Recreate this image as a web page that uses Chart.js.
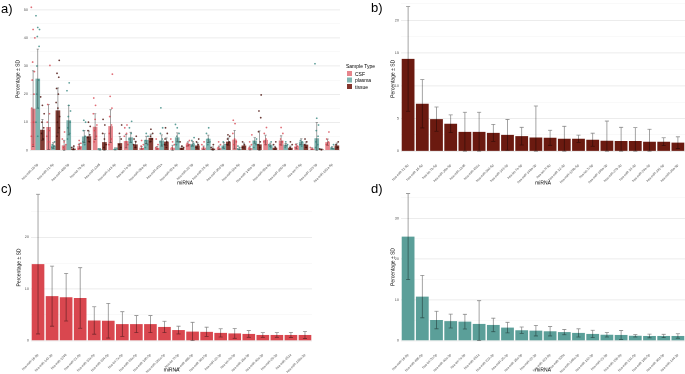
<!DOCTYPE html>
<html>
<head>
<meta charset="utf-8">
<script src="https://cdn.jsdelivr.net/npm/chart.js@4.4.1/dist/chart.umd.min.js"></script>
<style>
body { margin:0; width:685px; height:374px; overflow:hidden; background:#fff; position:relative; font-family:'Liberation Sans', Arial, sans-serif; }
.panel { position:absolute; transform:scale(0.5); transform-origin:0 0; }
.tag { position:absolute; font-size:13px; line-height:1; color:#000; }
.legend { position:absolute; left:346px; top:64px; width:120px; height:60px; transform:scale(0.5); transform-origin:0 0; }
.leg { position:absolute; font-size:10px; line-height:1; color:#000; white-space:nowrap; }
.key { position:absolute; width:10px; height:10px; }
</style>
</head>
<body>
<div class="panel" style="left:0;top:-4px"><canvas id="chartA" width="684" height="382"></canvas></div>
<div class="panel" style="left:380px;top:-5px"><canvas id="chartB" width="610" height="384"></canvas></div>
<div class="panel" style="left:0;top:181px"><canvas id="chartC" width="628" height="386"></canvas></div>
<div class="panel" style="left:380px;top:181px"><canvas id="chartD" width="610" height="386"></canvas></div>

<div class="tag" style="left:1px;top:2px">a)</div>
<div class="tag" style="left:371px;top:1px">b)</div>
<div class="tag" style="left:1px;top:182px">c)</div>
<div class="tag" style="left:371px;top:182px">d)</div>

<!-- legenda do painel a (desenhada em 2x e reduzida) -->
<div class="legend">
    <div class="leg" style="left:0;top:0">Sample Type</div>
    <div class="key" style="left:2px;top:14px;background:#e6858c"></div>
    <div class="leg" style="left:18px;top:15px">CSF</div>
    <div class="key" style="left:2px;top:27px;background:#7fb5b0"></div>
    <div class="leg" style="left:18px;top:28px">plasma</div>
    <div class="key" style="left:2px;top:40px;background:#84352d"></div>
    <div class="leg" style="left:18px;top:41px">tissue</div>
</div>

<script>
// Painel a: miRNAs por tipo de amostra
const labelsA = ['hsa-miR-16-5p', 'hsa-miR-21-5p', 'hsa-miR-486-5p', 'hsa-let-7b-5p', 'hsa-miR-1246',
    'hsa-miR-143-3p', 'hsa-let-7a-5p', 'hsa-miR-26a-5p', 'hsa-miR-451a', 'hsa-miR-92a-3p',
    'hsa-miR-22-3p', 'hsa-miR-25-3p', 'hsa-miR-30d-5p', 'hsa-miR-10a-5p', 'hsa-miR-148a-3p',
    'hsa-miR-99a-5p', 'hsa-miR-100-5p', 'hsa-let-7f-5p', 'hsa-miR-223-3p', 'hsa-miR-181a-5p'];
const csfMeanA = [14.8, 8.3, 1.75, 1.5, 8.4, 8.6, 3.25, 0.9, 0.9, 0.9, 2.3, 0.9, 0.9, 3.8, 0.8, 3.7, 3.5, 1.4, 0.6, 2.9];
const csfSdA = [13.5, 8.0, 1.8, 1.0, 4.6, 5.85, 2.4, 0.5, 0.5, 0.9, 0.75, 0.6, 0.6, 3.3, 0.7, 1.7, 1.65, 0.9, 0.3, 1.1];
const plasmaMeanA = [25.5, 1.7, 10.7, 4.9, 0.35, 0.5, 4.6, 3.7, 3.5, 4.6, 2.3, 4.1, 1.7, 0.5, 3.5, 2.0, 2.0, 3.1, 4.3, 0.9];
const plasmaSdA = [10.5, 1.0, 5.2, 2.2, 0.3, 0.4, 1.8, 1.3, 2.0, 1.6, 0.8, 1.3, 1.0, 0.3, 1.0, 0.55, 0.45, 1.0, 5.6, 0.4];
const tissueMeanA = [7.3, 14.2, 0.6, 5.0, 2.9, 2.55, 2.1, 4.4, 3.1, 0.9, 1.7, 0.6, 3.1, 1.7, 2.1, 0.9, 0.9, 2.0, 0.35, 1.7];
const tissueSdA = [3.7, 8.0, 0.5, 1.85, 3.0, 2.35, 1.15, 1.35, 1.3, 0.5, 1.0, 0.6, 1.3, 0.9, 4.8, 0.55, 0.6, 1.0, 0.2, 0.9];

// pontos individuais (amostras)
const csfPtsA = [
    [50.9, 43, 40, 31.4, 28, 25, 20, 15, 10, 5, 2], [30.2, 16.3, 13, 10, 7, 5, 3], [6.5, 4, 3, 2, 1],
    [3.5, 2.5, 2, 1, 0.5], [18.6, 16, 13, 11, 9, 7, 5, 3], [27.1, 19.2, 15, 12, 9, 6, 4, 2],
    [9, 8, 6, 5, 3, 2], [3.5, 2, 1.5, 0.5], [4, 2, 1, 0.5], [4, 3, 2, 1], [3.5, 2.5, 2, 1.5],
    [3, 2, 1], [3, 2, 1], [10.7, 9.5, 6, 4, 3, 2], [5.5, 3, 2, 1], [8.1, 6, 4, 3, 2],
    [8.1, 6, 4, 3, 2], [2, 1.5, 1], [1, 0.5], [6.5, 4, 3, 2]
];
const plasmaPtsA = [
    [47.9, 43.7, 43, 40.5, 37, 30, 25, 20, 15, 10, 5], [3, 2, 1.5, 1], [24, 21.2, 16, 14, 12, 10, 8, 6, 4],
    [10.7, 10, 7, 5, 3, 2], [0.5, 0.3], [0.7, 0.4], [10.3, 8, 6, 4, 3], [6, 5, 3.5, 2, 1],
    [15.1, 8, 6, 4, 3, 2], [9.2, 8, 6, 5, 3, 2], [4.5, 3.5, 2.5, 1.5], [8, 6, 4, 3, 2],
    [3, 2, 1], [1.5, 1, 0.5], [4, 3, 2, 1], [3, 2, 1], [3, 2, 1], [3.5, 3, 2, 1.5],
    [30.8, 11.4, 9, 7, 5, 3, 2, 1], [2, 1, 0.5]
];
const tissuePtsA = [
    [19, 16, 13, 10, 8, 6, 4], [32, 27.4, 26, 22, 20, 17, 15, 12, 10, 8, 5], [1.5, 1, 0.5],
    [10, 8.5, 7, 5.5, 4.5, 3], [11, 9, 6, 4, 2, 1], [9, 6, 4, 2, 1], [5, 4, 3, 2, 1],
    [7.5, 6, 5, 4, 3], [8, 6, 4, 3, 2, 1], [3, 1.5, 1, 0.5], [4, 3, 2, 1], [2, 1, 0.5],
    [5.5, 5, 4, 3, 2], [3, 2, 1], [19.7, 14, 11.6, 6.6, 3, 2, 1], [3, 2, 1], [3, 2, 1],
    [4, 3, 2, 1], [0.5, 0.2], [3, 2, 1]
];
const yTicksA = [0, 10, 20, 30, 40, 50];
const yMinorA = [5, 15, 25, 35, 45];

// Painel b: tecido
const labelsB = ['hsa-miR-21-5p', 'hsa-miR-16-5p', 'hsa-let-7b-5p', 'hsa-miR-26a-5p', 'hsa-miR-1246',
    'hsa-miR-451a', 'hsa-miR-30d-5p', 'hsa-miR-143-3p', 'hsa-let-7a-5p', 'hsa-miR-148a-3p',
    'hsa-let-7f-5p', 'hsa-miR-22-3p', 'hsa-miR-125b-5p', 'hsa-let-7i-5p', 'hsa-miR-199a-3p',
    'hsa-miR-27b-3p', 'hsa-miR-24-3p', 'hsa-miR-29a-3p', 'hsa-miR-191-5p', 'hsa-miR-30a-5p'];
const meanB = [14.1, 7.25, 4.9, 4.2, 2.95, 2.95, 2.8, 2.5, 2.3, 2.1, 2.05, 1.9, 1.9, 1.75, 1.6, 1.55, 1.55, 1.45, 1.45, 1.3];
const sdB = [8.0, 3.7, 1.85, 1.35, 3.0, 3.0, 1.3, 2.35, 1.35, 4.8, 1.15, 1.9, 0.55, 1.0, 3.0, 2.1, 2.05, 1.9, 0.6, 0.9];
const yTicksB = [0, 5, 10, 15, 20];
const yMinorB = [2.5, 7.5, 12.5, 17.5, 22.5];

// Painel c: CSF
const labelsC = ['hsa-miR-16-5p', 'hsa-miR-143-3p', 'hsa-miR-1246', 'hsa-miR-21-5p', 'hsa-miR-10a-5p',
    'hsa-miR-204-5p', 'hsa-let-7a-5p', 'hsa-miR-99a-5p', 'hsa-miR-100-5p', 'hsa-miR-181a-5p',
    'hsa-let-7f-5p', 'hsa-miR-486-5p', 'hsa-miR-30d-5p', 'hsa-miR-22-3p', 'hsa-let-7b-5p',
    'hsa-miR-26a-5p', 'hsa-miR-92a-3p', 'hsa-miR-25-3p', 'hsa-miR-451a', 'hsa-miR-148a-3p'];
const meanC = [14.8, 8.6, 8.4, 8.25, 3.9, 3.85, 3.2, 3.2, 3.2, 2.65, 2.05, 1.75, 1.7, 1.5, 1.4, 1.3, 1.1, 1.1, 1.1, 1.1];
const sdC = [13.5, 5.8, 4.6, 5.85, 2.65, 3.35, 2.4, 1.65, 1.65, 1.1, 0.75, 1.8, 0.9, 0.8, 0.95, 0.65, 0.45, 0.45, 0.5, 0.7];
const yTicksC = [0, 10, 20];
const yMinorC = [5, 15, 25];

// Painel d: plasma
const labelsD = ['hsa-miR-16-5p', 'hsa-miR-486-5p', 'hsa-let-7b-5p', 'hsa-miR-92a-3p', 'hsa-let-7a-5p',
    'hsa-miR-451a', 'hsa-miR-223-3p', 'hsa-miR-25-3p', 'hsa-miR-26a-5p', 'hsa-miR-22-3p',
    'hsa-miR-423-5p', 'hsa-miR-320a', 'hsa-miR-148a-3p', 'hsa-miR-142-3p', 'hsa-miR-21-5p',
    'hsa-miR-15b-5p', 'hsa-miR-191-5p', 'hsa-miR-186-5p', 'hsa-miR-30d-5p', 'hsa-miR-144-3p'];
const meanD = [25.5, 10.8, 5.05, 4.8, 4.65, 4.1, 3.85, 3.2, 2.55, 2.45, 2.3, 2.1, 1.9, 1.65, 1.45, 1.4, 1.2, 1.15, 1.15, 1.15];
const sdD = [10.55, 5.2, 2.15, 1.7, 1.8, 5.7, 1.65, 1.3, 0.8, 1.3, 1.15, 0.65, 1.0, 0.9, 0.55, 1.1, 0.3, 0.45, 0.4, 0.55];
const yTicksD = [0, 10, 20, 30];
const yMinorD = [5, 15, 25, 35];

// tudo é desenhado em 2x e reduzido por CSS (texto muito pequeno)
const K = 2;

Chart.defaults.font.family = "'Liberation Sans', Arial, sans-serif";
Chart.defaults.animation = false;

// Barras de erro (média ± DP, truncadas em zero)
const errorBarPlugin = {
    id: 'errorBars',
    afterDatasetsDraw(chart) {
        const ctx = chart.ctx;
        const yScale = chart.scales.y;
        chart.data.datasets.forEach((ds, i) => {
            if (!ds.sd) return;
            chart.getDatasetMeta(i).data.forEach((bar, j) => {
                const m = ds.data[j];
                const s = ds.sd[j];
                const top = yScale.getPixelForValue(m + s);
                const bot = yScale.getPixelForValue(Math.max(0, m - s));
                const cap = bar.width * ds.capFrac;
                ctx.save();
                ctx.strokeStyle = 'rgba(0,0,0,0.45)';
                ctx.lineWidth = 0.8 * K;
                ctx.beginPath();
                ctx.moveTo(bar.x, top); ctx.lineTo(bar.x, bot);
                ctx.moveTo(bar.x - cap, top); ctx.lineTo(bar.x + cap, top);
                ctx.moveTo(bar.x - cap, bot); ctx.lineTo(bar.x + cap, bot);
                ctx.stroke();
                ctx.restore();
            });
        });
    }
};

// Pontos individuais sobre as barras (só painel a)
const jitterPlugin = {
    id: 'jitterPoints',
    afterDatasetsDraw(chart) {
        const ctx = chart.ctx;
        const yScale = chart.scales.y;
        chart.data.datasets.forEach((ds, i) => {
            if (!ds.points) return;
            chart.getDatasetMeta(i).data.forEach((bar, j) => {
                ds.points[j].forEach((v, k) => {
                    const off = (((j * 7 + k * 13) % 9) - 4) / 4 * bar.width * 0.38;
                    ctx.beginPath();
                    ctx.arc(bar.x + off, yScale.getPixelForValue(v), 0.9 * K, 0, Math.PI * 2);
                    ctx.fillStyle = ds.pointColor;
                    ctx.fill();
                });
            });
        });
    }
};

// Monta um painel com eixos no estilo theme_minimal
function makePanel(id, labels, datasets, opts) {
    const allTicks = opts.major.concat(opts.minor).sort((a, b) => a - b);
    const p = opts.padding;
    return new Chart(document.getElementById(id), {
        type: 'bar',
        data: { labels: labels, datasets: datasets },
        options: {
            responsive: false,
            devicePixelRatio: 1,
            layout: { padding: { left: p.left * K, top: p.top * K, right: p.right * K, bottom: 0 } },
            plugins: { legend: { display: false }, tooltip: { enabled: false } },
            scales: {
                x: {
                    grid: { display: false },
                    border: { display: false },
                    ticks: {
                        autoSkip: false, minRotation: 45, maxRotation: 45, padding: 1 * K,
                        color: '#4d4d4d', font: { size: 3.3 * K }
                    },
                    title: { display: true, text: 'miRNA', color: '#000', font: { size: 5 * K }, padding: { top: 0, bottom: 1 * K } },
                    afterFit: (s) => { s.height = opts.xHeight * K; }
                },
                y: {
                    min: opts.min,
                    max: opts.max,
                    border: { display: false },
                    grid: {
                        drawTicks: false,
                        color: (c) => opts.major.includes(c.tick.value) ? '#e6e6e6' : '#f3f3f3',
                        lineWidth: (c) => (opts.major.includes(c.tick.value) ? 0.7 : 0.5) * K
                    },
                    ticks: {
                        padding: 2 * K, color: '#4d4d4d', font: { size: 3.8 * K },
                        callback: (v) => opts.major.includes(v) ? String(v) : ''
                    },
                    afterBuildTicks: (s) => { s.ticks = allTicks.map(v => ({ value: v })); },
                    title: { display: true, text: 'Percentage ± SD', color: '#000', font: { size: 5 * K }, padding: 0 },
                    afterFit: (s) => { s.width = opts.yWidth * K; }
                }
            }
        },
        plugins: [errorBarPlugin, jitterPlugin]
    });
}

makePanel('chartA', labelsA, [
    { data: csfMeanA, sd: csfSdA, points: csfPtsA, capFrac: 0.25, pointColor: 'rgba(214,60,72,0.75)',
      backgroundColor: 'rgba(217,67,79,0.65)', categoryPercentage: 0.9, barPercentage: 1 },
    { data: plasmaMeanA, sd: plasmaSdA, points: plasmaPtsA, capFrac: 0.25, pointColor: 'rgba(55,135,128,0.8)',
      backgroundColor: 'rgba(90,158,152,0.78)', categoryPercentage: 0.9, barPercentage: 1 },
    { data: tissueMeanA, sd: tissueSdA, points: tissuePtsA, capFrac: 0.25, pointColor: 'rgba(70,10,5,0.8)',
      backgroundColor: 'rgba(107,26,16,0.85)', categoryPercentage: 0.9, barPercentage: 1 }
], { min: -2.6, max: 53.4, major: yTicksA, minor: yMinorA,
     padding: { left: 15, top: 1, right: 2 }, yWidth: 15, xHeight: 29.4 });

makePanel('chartB', labelsB, [
    { data: meanB, sd: sdB, capFrac: 0.16, backgroundColor: '#6b1a10', categoryPercentage: 1, barPercentage: 0.9 }
], { min: -1.1, max: 23.2, major: yTicksB, minor: yMinorB,
     padding: { left: 10, top: 1.3, right: 0 }, yWidth: 11, xHeight: 28.6 });

makePanel('chartC', labelsC, [
    { data: meanC, sd: sdC, capFrac: 0.16, backgroundColor: '#d9474f', categoryPercentage: 1, barPercentage: 0.9 }
], { min: -1.42, max: 29.7, major: yTicksC, minor: yMinorC,
     padding: { left: 16, top: 6, right: 2 }, yWidth: 15, xHeight: 26 });

makePanel('chartD', labelsD, [
    { data: meanD, sd: sdD, capFrac: 0.16, backgroundColor: '#5b9f99', categoryPercentage: 1, barPercentage: 0.9 }
], { min: -1.8, max: 37.9, major: yTicksD, minor: yMinorD,
     padding: { left: 10, top: 5, right: 0 }, yWidth: 11, xHeight: 26 });
</script>
</body>
</html>
